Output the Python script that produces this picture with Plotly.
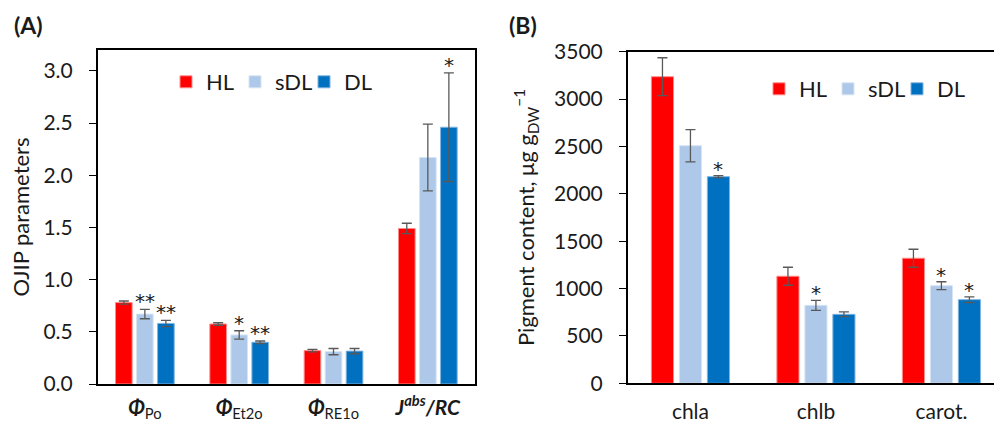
import plotly.graph_objects as go

# ---------------- data ----------------
groups = ["HL", "sDL", "DL"]
colors = ["#ff0000", "#adc8e8", "#0070c0"]
edge_colors = ["#ff8a8a", "#d6e4f4", "#7fb3e0"]

# Panel A: OJIP parameters
a_cats = ["PhiPo", "PhiEt2o", "PhiRE1o", "JabsRC"]
a_ticktext = ["<b><i>Φ</i></b><sub>Po</sub>",
              "<b><i>Φ</i></b><sub>Et2o</sub>",
              "<b><i>Φ</i></b><sub>RE1o</sub>",
              "<b><i>J</i></b><sup><b><i>abs</i></b></sup><b><i>/RC</i></b>"]
a_HL = [0.78, 0.575, 0.32, 1.49]
a_sDL = [0.67, 0.47, 0.31, 2.17]
a_DL = [0.58, 0.40, 0.315, 2.46]
a_HL_err = [0.015, 0.012, 0.012, 0.05]
a_sDL_err = [0.045, 0.04, 0.03, 0.32]
a_DL_err = [0.03, 0.012, 0.025, 0.52]
a_stars_HL = ["", "", "", ""]
a_stars_sDL = ["**", "*", "", ""]
a_stars_DL = ["**", "**", "", "*"]

# Panel B: pigment content
b_cats = ["chla", "chlb", "carot."]
b_HL = [3236, 1130, 1320]
b_sDL = [2508, 823, 1030]
b_DL = [2181, 728, 883]
b_HL_err = [200, 95, 95]
b_sDL_err = [170, 53, 42]
b_DL_err = [10, 25, 30]
b_stars_HL = ["", "", ""]
b_stars_sDL = ["", "*", "*"]
b_stars_DL = ["*", "", "*"]

FONT = "Lato, 'Open Sans', sans-serif"
STARFONT = "'DejaVu Sans', sans-serif"
TXT = "#1a1a1a"
ERRC = "#595959"
BARGAP = 0.331
BARGROUPGAP = 0.21
FS = 21

fig = go.Figure()

a_vals = [a_HL, a_sDL, a_DL]
a_errs = [a_HL_err, a_sDL_err, a_DL_err]
a_stars = [a_stars_HL, a_stars_sDL, a_stars_DL]
b_vals = [b_HL, b_sDL, b_DL]
b_errs = [b_HL_err, b_sDL_err, b_DL_err]
b_stars = [b_stars_HL, b_stars_sDL, b_stars_DL]

for j, g in enumerate(groups):
    fig.add_trace(go.Bar(
        x=a_cats, y=a_vals[j], name=g, xaxis="x", yaxis="y",
        marker=dict(color=colors[j], line=dict(color=edge_colors[j], width=1)),
        error_y=dict(type="data", array=a_errs[j], color=ERRC, thickness=1.3, width=5),
        offsetgroup=str(j), legend="legend", showlegend=True,
    ))
for j, g in enumerate(groups):
    fig.add_trace(go.Bar(
        x=b_cats, y=b_vals[j], name=g, xaxis="x2", yaxis="y2",
        marker=dict(color=colors[j], line=dict(color=edge_colors[j], width=1)),
        error_y=dict(type="data", array=b_errs[j], color=ERRC, thickness=1.3, width=5),
        offsetgroup=str(j), legend="legend2", showlegend=True,
    ))

step = (1 - BARGAP) / 3
annotations = []
for j in range(3):
    for i in range(len(a_cats)):
        s = a_stars[j][i]
        if s:
            annotations.append(dict(
                x=i + (j - 1) * step, y=a_vals[j][i] + a_errs[j][i], xref="x", yref="y",
                text=s, showarrow=False, yanchor="bottom", yshift=-6,
                font=dict(family=STARFONT, size=20, color=TXT)))
    for i in range(len(b_cats)):
        s = b_stars[j][i]
        if s:
            annotations.append(dict(
                x=i + (j - 1) * step, y=b_vals[j][i] + b_errs[j][i], xref="x2", yref="y2",
                text=s, showarrow=False, yanchor="bottom", yshift=-7,
                font=dict(family=STARFONT, size=20, color=TXT)))

annotations.append(dict(x=12 / 994, y=1 - 25 / 423, xref="paper", yref="paper",
                        text="<b>(A)</b>", showarrow=False, xanchor="left", yanchor="middle",
                        font=dict(family=FONT, size=23, color=TXT)))
annotations.append(dict(x=507 / 994, y=1 - 25 / 423, xref="paper", yref="paper",
                        text="<b>(B)</b>", showarrow=False, xanchor="left", yanchor="middle",
                        font=dict(family=FONT, size=23, color=TXT)))

axis_common = dict(showline=True, linecolor="black", linewidth=1.5, showgrid=False,
                   zeroline=False, automargin=False,
                   tickfont=dict(family=FONT, size=FS, color=TXT))

fig.update_layout(
    width=994, height=423,
    margin=dict(l=0, r=0, t=0, b=0),
    paper_bgcolor="white", plot_bgcolor="white",
    barmode="group", bargap=BARGAP, bargroupgap=BARGROUPGAP,
    font=dict(family=FONT, color=TXT),
    xaxis=dict(**axis_common, domain=[97.7 / 994, 475 / 994], anchor="y",
               range=[-0.5, 3.5], type="category", mirror=True, ticks="",
               tickmode="array", tickvals=a_cats, ticktext=a_ticktext,
               ticklabelstandoff=4),
    yaxis=dict(**axis_common, domain=[(423 - 384) / 423, (423 - 50) / 423], anchor="x",
               range=[0, 3.2], dtick=0.5, tickformat=".1f", mirror=True,
               ticks="outside", ticklen=7, tickcolor="black", tickwidth=1.3,
               ticklabelstandoff=12,
               title=dict(text="OJIP parameters", font=dict(family=FONT, size=22, color=TXT),
                          standoff=8)),
    xaxis2=dict(**axis_common, domain=[627.7 / 994, 1.0], anchor="y2",
                range=[-0.5, 2.419], type="category", mirror=True, ticks="",
                ticklabelstandoff=9),
    yaxis2=dict(**axis_common, domain=[(423 - 383.3) / 423, (423 - 51.7) / 423], anchor="x2",
                range=[0, 3500], dtick=500, mirror=False,
                ticks="outside", ticklen=7, tickcolor="black", tickwidth=1.3,
                ticklabelstandoff=12,
                title=dict(text="Pigment content, μg g<sub>DW</sub><sup>−1</sup>",
                           font=dict(family=FONT, size=22, color=TXT), standoff=13)),
    legend=dict(orientation="h", x=166 / 994, y=1 - 82 / 423, xanchor="left", yanchor="middle",
                font=dict(family=FONT, size=22, color=TXT), bgcolor="rgba(0,0,0,0)",
                itemwidth=30, tracegroupgap=0, entrywidth=24, entrywidthmode="pixels"),
    legend2=dict(orientation="h", x=759 / 994, y=1 - 89 / 423, xanchor="left", yanchor="middle",
                 font=dict(family=FONT, size=22, color=TXT), bgcolor="rgba(0,0,0,0)",
                 itemwidth=30, tracegroupgap=0, entrywidth=24, entrywidthmode="pixels"),
    annotations=annotations,
)

fig.write_html("out.html", config={"displayModeBar": False},
               post_script="document.body.style.margin='0';document.body.style.overflow='hidden';")
